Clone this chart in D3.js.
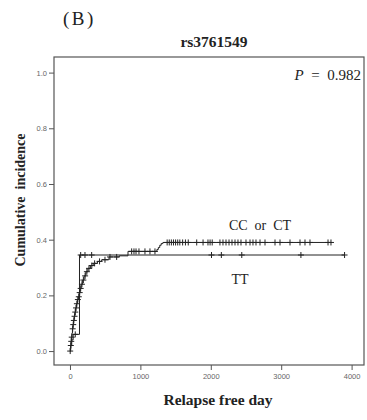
<!DOCTYPE html>
<html><head><meta charset="utf-8">
<script src="https://cdn.jsdelivr.net/npm/d3@7"></script>
<style>body{margin:0;background:#fff}svg{display:block}</style>
</head><body>
<svg id="c" width="367" height="420"></svg>
<script>
// ---- data ----
const xTicks = [0, 1000, 2000, 3000, 4000];
const yTicks = [0, 0.2, 0.4, 0.6, 0.8, 1.0];
// CC or CT group: event times (days) and cumulative incidence after each event
const ccTimes  = [0, 5, 10, 15, 20, 28, 35, 42, 50, 60, 70, 80, 92, 105, 118, 130, 145, 160, 180, 200, 225, 255, 290, 330, 390, 450, 554, 700, 824, 1235, 1255, 1275, 1295, 1320];
const ccValues = [0, 0.01, 0.02, 0.035, 0.05, 0.065, 0.08, 0.095, 0.11, 0.125, 0.14, 0.155, 0.17, 0.185, 0.195, 0.21, 0.225, 0.24, 0.255, 0.27, 0.285, 0.297, 0.307, 0.315, 0.322, 0.328, 0.338, 0.342, 0.358, 0.365, 0.372, 0.38, 0.386, 0.39];
const ccEnd = 3720;
const ccCensored = [3, 12, 18, 25, 38, 46, 55, 65, 75, 86, 98, 112, 125, 138, 152, 170, 190, 215, 240, 270, 310, 350, 420, 497, 568, 663, 876, 909, 938, 980, 1065, 1136, 1207,
  1380, 1410, 1440, 1470, 1500, 1530, 1560, 1600, 1640, 1680, 1800, 1890, 1960, 1990, 2020, 2130, 2173, 2216, 2259, 2301,
  2344, 2386, 2429, 2500, 2557, 2599, 2642, 2699, 2770, 2912, 2983, 3125, 3267, 3338, 3409, 3665, 3707];
// TT group
const ttTimes  = [0, 10, 25, 45, 135];
const ttValues = [0, 0.02, 0.04, 0.06, 0.345];
const ttEnd = 3900;
const ttCensored = [75, 152, 213, 308, 2010, 2150, 2440, 3280, 3900];

const svg = d3.select("#c");
const x = d3.scaleLinear().domain([-227, 4176]).range([54, 364]);
const y = d3.scaleLinear().domain([-0.05, 1.056]).range([365, 57]);
const serif = "'Liberation Serif', 'Times New Roman', serif";

// frame
svg.append("rect").attr("x", x.range()[0]).attr("y", y.range()[1])
  .attr("width", x.range()[1] - x.range()[0]).attr("height", y.range()[0] - y.range()[1])
  .attr("fill", "none").attr("stroke", "#555").attr("stroke-width", 1.2);

// axes
const xa = svg.append("g").attr("transform", `translate(0,${y.range()[0]})`)
  .call(d3.axisBottom(x).tickValues(xTicks).tickSize(5).tickPadding(4).tickFormat(d3.format("d")));
const ya = svg.append("g").attr("transform", `translate(${x.range()[0]},0)`)
  .call(d3.axisLeft(y).tickValues(yTicks).tickSize(5).tickPadding(2).tickFormat(d3.format(".1f")));
[xa, ya].forEach(g => {
  g.select(".domain").remove();
  g.selectAll("line").attr("stroke", "#555");
  g.selectAll("text").attr("fill", "#666").attr("font-family", "'Liberation Sans', Arial, sans-serif").attr("font-size", 7.5);
});

// curves
function stepPoints(times, values, end) {
  const pts = times.map((t, i) => [t, values[i]]);
  pts.push([end, values[values.length - 1]]);
  return pts;
}
function valueAt(times, values, t) {
  let v = values[0];
  for (let i = 0; i < times.length; i++) if (times[i] <= t) v = values[i];
  return v;
}
const line = d3.line().x(d => x(d[0])).y(d => y(d[1])).curve(d3.curveStepAfter);
const groups = [
  {times: ccTimes, values: ccValues, end: ccEnd, cens: ccCensored},
  {times: ttTimes, values: ttValues, end: ttEnd, cens: ttCensored}
];
groups.forEach(g => {
  svg.append("path").attr("d", line(stepPoints(g.times, g.values, g.end)))
    .attr("fill", "none").attr("stroke", "#222").attr("stroke-width", 1);
  svg.append("g").selectAll("path").data(g.cens).join("path")
    .attr("d", t => {
      const cx = x(t), cy = y(valueAt(g.times, g.values, t));
      return `M${cx - 3},${cy}H${cx + 3}M${cx},${cy - 3}V${cy + 3}`;
    })
    .attr("stroke", "#222").attr("stroke-width", 1);
});

// texts
svg.append("text").attr("x", 63).attr("y", 25).attr("font-family", serif).attr("font-size", 19)
  .attr("letter-spacing", 2.5).attr("fill", "#222").text("(B)");
svg.append("text").attr("x", 214).attr("y", 47).attr("text-anchor", "middle").attr("font-family", serif)
  .attr("font-weight", "bold").attr("font-size", 15.5).attr("fill", "#222").text("rs3761549");
const pt = svg.append("text").attr("x", 361).attr("y", 80).attr("text-anchor", "end").attr("font-family", serif)
  .attr("font-size", 15).attr("fill", "#222").attr("xml:space", "preserve");
pt.append("tspan").attr("font-style", "italic").text("P");
pt.append("tspan").text("  =  0.982");
svg.append("text").attr("x", 260).attr("y", 230).attr("text-anchor", "middle").attr("font-family", serif)
  .attr("font-size", 14).attr("fill", "#222").attr("xml:space", "preserve").text("CC  or  CT");
svg.append("text").attr("x", 240).attr("y", 284).attr("text-anchor", "middle").attr("font-family", serif)
  .attr("font-size", 14).attr("fill", "#222").text("TT");
svg.append("text").attr("x", 218).attr("y", 405).attr("text-anchor", "middle").attr("font-family", serif)
  .attr("font-weight", "bold").attr("font-size", 15.5).attr("fill", "#222").attr("xml:space", "preserve").text("Relapse free day");
svg.append("text").attr("transform", "translate(25,200) rotate(-90)").attr("text-anchor", "middle")
  .attr("font-family", serif).attr("font-weight", "bold").attr("font-size", 14).attr("fill", "#222")
  .attr("xml:space", "preserve").text("Cumulative  incidence");
</script>
</body></html>
